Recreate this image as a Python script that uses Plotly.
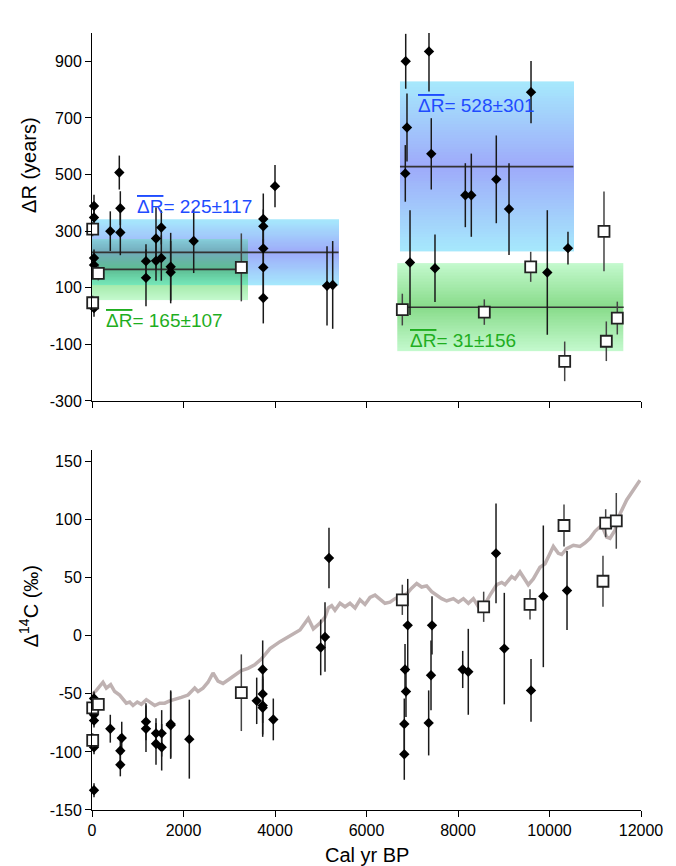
import plotly.graph_objects as go

# ---------------- data: top panel (Delta R) ----------------
dr_dia_age = [44, 44, 44, 44, 44, 400, 597, 619, 619, 1180, 1180, 1399, 1399, 1515, 1515,
              1720, 1720, 2223, 3744, 3744, 3744, 3744, 3744, 4000, 5137, 5261,
              6857, 7366, 6885, 6848, 7416, 9596, 8837, 8160, 8291, 9115, 6951, 7497, 9952, 10404]
dr_dia_val = [389, 348, 205, 180, 28, 300, 507, 381, 295, 194, 135, 274, 195, 313, 205,
              174, 155, 265, 343, 317, 239, 172, 64, 459, 107, 110,
              900, 935, 666, 504, 573, 791, 483, 427, 427, 378, 189, 169, 154, 240]
dr_dia_err = [40, 40, 30, 30, 30, 70, 60, 60, 80, 60, 100, 110, 70, 60, 80,
              120, 110, 113, 90, 60, 80, 100, 90, 75, 140, 155,
              97, 142, 120, 100, 126, 110, 155, 113, 147, 162, 185, 119, 220, 58]

dr_sq_age = [15, 138, 15, 3264, 6783, 8575, 9589, 11191, 11482, 11242, 10332]
dr_sq_val = [307, 151, 47, 172, 23, 14, 174, 299, -7, -89, -160]
dr_sq_err = [25, 25, 25, 120, 56, 45, 53, 141, 58, 70, 70]

# mean +- sd boxes
box_start = [0, 0, 6732, 6673]
box_end = [5390, 3420, 10535, 11622]
line_end = [5390, 3264, 10521, 11622]
box_mean = [225, 165, 528, 31]
box_sd = [117, 107, 301, 156]
box_kind = ["blue", "green", "blue", "green"]
box_label_x = [935, 262, 7075, 6914]
box_label_y = [386, -14, 745, -87]

# ---------------- data: bottom panel (Delta 14C) ----------------
c_dia_age = [44, 44, 44, 44, 44, 44, 400, 650, 619, 619, 1180, 1180, 1399, 1399, 1523, 1523,
             1720, 1720, 2127, 3600, 3731, 3731, 3731, 3731, 3963, 4999, 5093, 5180,
             6901, 6842, 6863, 6826, 6826, 7432, 7410, 7359, 8103, 8225, 8831, 9012,
             9596, 9865, 10383]
c_dia_val = [-54, -65, -68, -73, -96, -133, -80, -88, -99, -111, -74, -80, -84, -93, -84, -96,
             -76, -77, -89, -56, -29, -50, -60, -62, -72, -10, -1, 67,
             9, -29, -48, -76, -102, 9, -34, -75, -29, -31, 71, -11,
             -47, 34, 39]
c_dia_err = [6, 6, 6, 6, 6, 6, 12, 14, 14, 10, 16, 20, 13, 18, 20, 20,
             29, 29, 34, 20, 25, 25, 25, 25, 18, 24, 30, 26,
             40, 22, 22, 22, 22, 25, 30, 28, 16, 37, 43, 48,
             27, 61, 34]

c_sq_age = [15, 138, 15, 3264, 6783, 8561, 9574, 10317, 11169, 11228, 11460]
c_sq_val = [-62, -59, -90, -49, 31, 25, 27, 95, 47, 97, 99]
c_sq_err = [5, 5, 6, 33, 13, 13, 13, 18, 22, 12, 24]

curve_age = [0, 95, 240, 313, 408, 496, 605, 678, 750, 824, 896, 990, 1078, 1187, 1260, 1370,
             1480, 1589, 1698, 1808, 1952, 2098, 2245, 2317, 2426, 2536, 2645, 2754, 2863,
             2973, 3119, 3264, 3410, 3556, 3701, 3891, 4109, 4328, 4546, 4728, 4838, 4984,
             5093, 5166, 5239, 5311, 5421, 5530, 5639, 5749, 5858, 5967, 6077, 6186, 6295,
             6404, 6514, 6623, 6732, 6878, 6987, 7097, 7206, 7315, 7425, 7534, 7643, 7753,
             7899, 8008, 8118, 8227, 8336, 8445, 8554, 8700, 8846, 8955, 9027, 9173, 9246,
             9355, 9465, 9537, 9646, 9792, 9902, 9975, 10084, 10193, 10266, 10375, 10521,
             10667, 10776, 10885, 10995, 11104, 11177, 11250, 11322, 11432, 11541, 11687,
             11833, 11978]
curve_val = [-50.6, -47, -40, -45, -42, -48, -51, -55, -58, -57, -60, -57, -59, -55, -57, -60,
             -58, -58, -56, -55, -53, -51, -45, -48, -45, -40, -32, -39, -41,
             -38, -34, -30, -28, -25, -20, -11, -5, 0, 5, 15, 6, 11,
             16, 24, 26, 22, 28, 25, 28, 24, 31, 27, 33, 35, 31,
             28, 29, 32, 34, 36, 41, 45, 42, 43, 38, 35, 32, 30,
             32, 29, 32, 28, 32, 25, 25, 35, 44, 46, 44, 51, 49,
             55, 48, 44, 49, 59, 62, 68, 77, 71, 70, 75, 78,
             77, 80, 84, 90, 94, 92, 85, 84, 91, 105, 117,
             126, 134]

x_ticks = [0, 2000, 4000, 6000, 8000, 10000, 12000]
x_tick_text = ["0", "2000", "4000", "6000", "8000", "10000", "12000"]
dr_ticks = [-300, -100, 100, 300, 500, 700, 900]
dr_tick_text = ["-300", "-100", "100", "300", "500", "700", "900"]
c_ticks = [-150, -100, -50, 0, 50, 100, 150]
c_tick_text = ["-150", "-100", "-50", "0", "50", "100", "150"]

# ---------------- styling ----------------
FONT = "Liberation Sans, Arial, Helvetica, sans-serif"
PALETTE = {
    "blue": {"edge": (166, 233, 252), "mid": (158, 170, 250), "text": "#1f4cff"},
    "green": {"edge": (196, 249, 206), "mid": (136, 220, 138), "text": "#1fae1f"},
}
ERR_COL = "#1a1a1a"


def grad_color(k, y):
    pal = PALETTE[box_kind[k]]
    t = min(1.0, abs(y - box_mean[k]) / box_sd[k])
    return tuple(pal["mid"][j] + (pal["edge"][j] - pal["mid"][j]) * t for j in range(3))


def rgb(c):
    return "rgb(%d,%d,%d)" % tuple(int(round(v)) for v in c)


fig = go.Figure()
annotations = []


def add_band_image(x0, x1, lo, hi, color_fn, nb=60):
    edges = [lo + (hi - lo) * i / nb for i in range(nb + 1)]
    mids = [(edges[i] + edges[i + 1]) / 2 for i in range(nb)]
    cols = [rgb(color_fn(m)) for m in mids]
    scale = [[i / (nb - 1), cols[i]] for i in range(nb)]
    z = [[i / (nb - 1)] for i in range(nb)]
    fig.add_trace(go.Heatmap(x=[x0, x1], y=edges, z=z, zmin=0, zmax=1, colorscale=scale,
                             showscale=False, hoverinfo="skip", xaxis="x", yaxis="y"))


# gradient boxes built from mean / sd
for k in range(len(box_mean)):
    add_band_image(box_start[k], box_end[k], box_mean[k] - box_sd[k], box_mean[k] + box_sd[k],
                   lambda y, k=k: grad_color(k, y))

# overlap of the two left boxes (multiplied colours)
ox0 = max(box_start[0], box_start[1])
ox1 = min(box_end[0], box_end[1])
olo = max(box_mean[0] - box_sd[0], box_mean[1] - box_sd[1])
ohi = min(box_mean[0] + box_sd[0], box_mean[1] + box_sd[1])
add_band_image(ox0, ox1, olo, ohi,
               lambda y: tuple(a * b / 255.0 * 1.08 for a, b in zip(grad_color(0, y), grad_color(1, y))))

for k in range(len(box_mean)):
    pal = PALETTE[box_kind[k]]
    fig.add_trace(go.Scatter(x=[box_start[k], line_end[k]], y=[box_mean[k], box_mean[k]],
                             mode="lines", line=dict(color="#333333", width=1.6),
                             xaxis="x", yaxis="y", showlegend=False, hoverinfo="skip"))
    annotations.append(dict(
        x=box_label_x[k], y=box_label_y[k], xref="x", yref="y", xanchor="left", yanchor="middle",
        text="<span style='text-decoration:overline'>ΔR</span>= %d±%d" % (box_mean[k], box_sd[k]),
        showarrow=False, font=dict(family=FONT, size=19, color=pal["text"])))

# top panel points
fig.add_trace(go.Scatter(x=dr_dia_age, y=dr_dia_val, mode="markers", xaxis="x", yaxis="y",
                         marker=dict(symbol="diamond", size=8, color="black"),
                         error_y=dict(type="data", array=dr_dia_err, color=ERR_COL, thickness=1.5, width=0),
                         showlegend=False, cliponaxis=False))
fig.add_trace(go.Scatter(x=dr_sq_age, y=dr_sq_val, mode="markers", xaxis="x", yaxis="y",
                         marker=dict(symbol="square", size=11, color="white", line=dict(color="#222", width=1.8)),
                         error_y=dict(type="data", array=dr_sq_err, color="#444", thickness=1.5, width=0),
                         showlegend=False, cliponaxis=False))

# bottom panel
fig.add_trace(go.Scatter(x=curve_age, y=curve_val, mode="lines", xaxis="x2", yaxis="y2",
                         line=dict(color="#bfb2b2", width=3.5), showlegend=False))
fig.add_trace(go.Scatter(x=c_dia_age, y=c_dia_val, mode="markers", xaxis="x2", yaxis="y2",
                         marker=dict(symbol="diamond", size=8, color="black"),
                         error_y=dict(type="data", array=c_dia_err, color=ERR_COL, thickness=1.5, width=0),
                         showlegend=False, cliponaxis=False))
fig.add_trace(go.Scatter(x=c_sq_age, y=c_sq_val, mode="markers", xaxis="x2", yaxis="y2",
                         marker=dict(symbol="square", size=11, color="white", line=dict(color="#222", width=1.8)),
                         error_y=dict(type="data", array=c_sq_err, color="#444", thickness=1.5, width=0),
                         showlegend=False, cliponaxis=False))

axis_common = dict(showline=True, linecolor="black", linewidth=1, ticks="outside", ticklen=6,
                   tickcolor="black", tickwidth=1, showgrid=False, zeroline=False,
                   tickfont=dict(family=FONT, size=16, color="black"))

annotations += [
    dict(text="ΔR (years)", xref="paper", yref="paper", x=-0.115, y=0.83, textangle=-90,
         showarrow=False, xanchor="center", yanchor="middle", font=dict(family=FONT, size=20, color="black")),
    dict(text="Δ<sup>14</sup>C (‰)", xref="paper", yref="paper", x=-0.115, y=0.262, textangle=-90,
         showarrow=False, xanchor="center", yanchor="middle", font=dict(family=FONT, size=20, color="black")),
    dict(text="Cal yr BP", xref="paper", yref="paper", x=0.5, y=-0.058,
         showarrow=False, xanchor="center", yanchor="middle", font=dict(family=FONT, size=20, color="black")),
]

fig.update_layout(
    width=668, height=858,
    margin=dict(l=84, r=35, t=25, b=56),
    paper_bgcolor="white", plot_bgcolor="white",
    font=dict(family=FONT, color="black"),
    xaxis=dict(axis_common, range=[0, 12000], tickvals=x_ticks, ticktext=x_tick_text,
               showticklabels=False, anchor="y", domain=[0, 1]),
    yaxis=dict(axis_common, range=[-300, 1000], tickvals=dr_ticks, ticktext=dr_tick_text,
               anchor="x", domain=[0.5264, 1]),
    xaxis2=dict(axis_common, range=[0, 12000], tickvals=x_ticks, ticktext=x_tick_text,
                anchor="y2", domain=[0, 1]),
    yaxis2=dict(axis_common, range=[-150, 160], tickvals=c_ticks, ticktext=c_tick_text,
                anchor="x2", domain=[0, 0.4633]),
    annotations=annotations,
)

fig.write_html("out.html")
